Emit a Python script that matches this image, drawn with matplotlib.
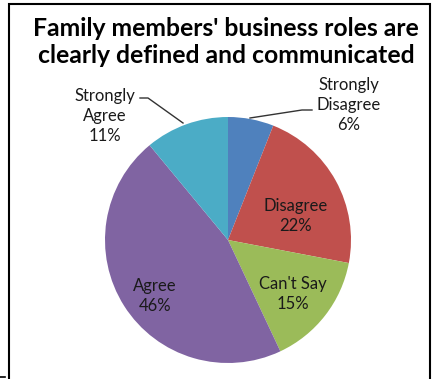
import matplotlib.pyplot as plt
from matplotlib.patches import Rectangle

labels = ["Strongly\nDisagree", "Disagree", "Can't Say", "Agree", "Strongly\nAgree"]
shares = [6, 22, 15, 46, 11]
colors = ["#4F81BD", "#C0504D", "#9BBB59", "#8064A2", "#4BACC6"]
title = "Family members' business roles are\nclearly defined and communicated"

W, H = 435, 379
fig = plt.figure(figsize=(W / 100, H / 100), dpi=100)
ax = fig.add_axes([0, 0, 1, 1])

cx, cy, r = 228, H - 240, 123
ax.pie(shares, colors=colors, startangle=90, counterclock=False,
       center=(cx, cy), radius=r, frame=True)
ax.set_xlim(0, W)
ax.set_ylim(0, H)
ax.set_aspect("equal")
ax.axis("off")

fam = ["Lato", "DejaVu Sans"]
txt = dict(ha="center", va="center", fontsize=12, family=fam, color="#1a1a1a",
           linespacing=1.3)

def lab(i):
    return f"{labels[i]}\n{shares[i]}%"

ax.text(349, H - 105, lab(0), **txt)
ax.text(296, H - 216, lab(1), **txt)
ax.text(293, H - 294, lab(2), **txt)
ax.text(155, H - 296, lab(3), **txt)
ax.text(105, H - 116, lab(4), **txt)

# leader lines for the two small outer labels
ax.plot([140, 148, 183], [H - 98, H - 98, H - 123], color="#333333", lw=1)
ax.plot([312, 302, 250], [H - 110, H - 110, H - 118], color="#333333", lw=1)

ax.text(226, H - 42, title, ha="center", va="center", fontsize=17.8,
        fontweight="bold", family=fam, color="black", linespacing=1.25)

ax.add_patch(Rectangle((9, -5), 421, H - 4 + 5, fill=False, ec="black", lw=1.5))
ax.plot([0, 5], [2, 2], color="black", lw=1.2)

fig.savefig("out.png", dpi=100)
